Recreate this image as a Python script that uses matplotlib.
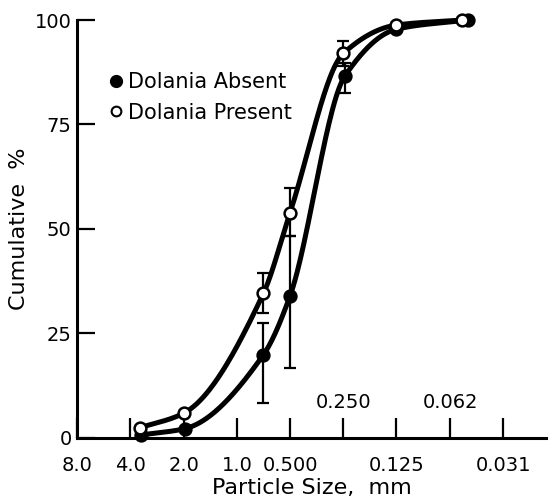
import numpy as np
import matplotlib
matplotlib.use("Agg")
import matplotlib.pyplot as plt
from matplotlib.lines import Line2D

# sieve sizes shown on the x axis (mm), plotted on the phi scale
size_labels = ["8.0", "4.0", "2.0", "1.0", "0.500", "0.250", "0.125", "0.062", "0.031"]
upper_labels = ["0.250", "0.062"]   # these two sit above the axis line

# cumulative percent, x given in phi units (-log2 mm)
absent_phi = [-1.80, -0.98, 0.50, 1.00, 2.03, 3.00, 4.34]
absent_pct = [0.7, 2.2, 19.9, 34.0, 86.6, 97.8, 100.0]
absent_lo = [0, 0, 11.5, 17.3, 4.0, 0, 0]
absent_hi = [0, 0, 7.5, 14.3, 3.0, 0, 0]

present_phi = [-1.83, -1.00, 0.50, 1.00, 2.00, 3.00, 4.23]
present_pct = [2.4, 5.9, 34.6, 53.9, 92.0, 98.8, 100.0]
present_lo = [0, 0, 4.7, 5.7, 3.0, 0, 0]
present_hi = [0, 0, 4.9, 5.8, 3.0, 0, 0]


def smooth(x, y, n=300):
    """monotone cubic (Fritsch-Carlson) through the points, for the drawn curve"""
    x = np.asarray(x, float)
    y = np.asarray(y, float)
    h = np.diff(x)
    d = np.diff(y) / h
    m = np.zeros_like(y)
    m[0], m[-1] = d[0], d[-1]
    for k in range(1, len(x) - 1):
        if d[k - 1] * d[k] > 0:
            w1 = 2 * h[k] + h[k - 1]
            w2 = h[k] + 2 * h[k - 1]
            m[k] = (w1 + w2) / (w1 / d[k - 1] + w2 / d[k])
    xs = np.linspace(x[0], x[-1], n)
    idx = np.clip(np.searchsorted(x, xs) - 1, 0, len(x) - 2)
    t = (xs - x[idx]) / h[idx]
    h00 = 2 * t**3 - 3 * t**2 + 1
    h10 = t**3 - 2 * t**2 + t
    h01 = -2 * t**3 + 3 * t**2
    h11 = t**3 - t**2
    ys = h00 * y[idx] + h10 * h[idx] * m[idx] + h01 * y[idx + 1] + h11 * h[idx] * m[idx + 1]
    return xs, ys


plt.rcParams['font.family'] = ['DejaVu Sans']

fig = plt.figure(figsize=(5.52, 5.01), dpi=100)
ax = fig.add_axes([0.140, 0.126, 0.849, 0.834])

for phi, pct, lo, hi, face in [(absent_phi, absent_pct, absent_lo, absent_hi, 'black'),
                              (present_phi, present_pct, present_lo, present_hi, 'white')]:
    xs, ys = smooth(phi, pct)
    ax.plot(xs, ys, color='black', lw=3.6, solid_capstyle='round', clip_on=False, zorder=2)
    ax.errorbar(phi, pct, yerr=[lo, hi], fmt='none', ecolor='black', elinewidth=1.6,
                capsize=4.3, capthick=1.6, clip_on=False, zorder=3)
    ax.plot(phi, pct, 'o', ms=8.5, mfc=face, mec='black', mew=1.8, clip_on=False, zorder=4)

tick_phi = [-np.log2(float(s)) for s in size_labels]
ax.set_xticks(tick_phi)
ax.set_xticklabels(["" if s in upper_labels else s for s in size_labels])
for s in upper_labels:
    ax.text(-np.log2(float(s)), 8.4, s, ha='center', va='center', fontsize=14)

ax.set_xlim(-3, 5.81)
ax.set_ylim(0, 100)
ax.set_yticks([0, 25, 50, 75, 100])

for side in ['top', 'right']:
    ax.spines[side].set_visible(False)
for side in ['left', 'bottom']:
    ax.spines[side].set_linewidth(2.2)

ax.tick_params(axis='x', direction='in', length=14.5, width=1.6, labelsize=14, pad=13)
ax.tick_params(axis='y', direction='in', length=13, width=1.6, labelsize=14, pad=4)

ax.set_xlabel("Particle Size,  mm", fontsize=16, labelpad=2)
ax.set_ylabel("Cumulative  %", fontsize=16, labelpad=4)

handles = [Line2D([], [], ls='none', marker='o', ms=8, mfc='black', mec='black', mew=1.5),
           Line2D([], [], ls='none', marker='o', ms=7, mfc='white', mec='black', mew=1.5)]
ax.legend(handles, ["Dolania Absent", "Dolania Present"], loc='upper left',
          bbox_to_anchor=(0.047, 0.90), frameon=False, fontsize=15,
          handlelength=0.6, handletextpad=0.3, labelspacing=0.5, borderpad=0)

fig.savefig("out.png", dpi=100)
